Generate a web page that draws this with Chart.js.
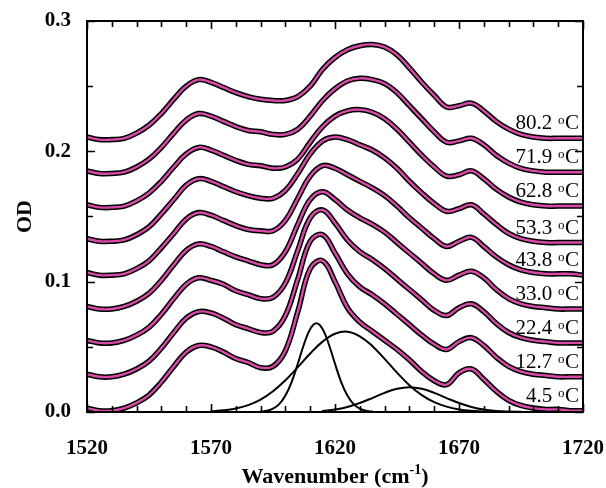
<!DOCTYPE html>
<html>
<head>
<meta charset="utf-8">
<script src="https://cdn.jsdelivr.net/npm/chart.js@4.4.0/dist/chart.umd.min.js"></script>
<style>
html, body { margin: 0; padding: 0; background: #fff; }
canvas { display: block; }
</style>
</head>
<body>
<canvas id="odChart" width="606" height="488"></canvas>
<script>
// wavenumber grid (cm-1) shared by all spectra
const wavenumbers = [1520, 1525, 1530, 1535, 1540, 1545, 1550, 1555, 1560, 1565, 1570, 1575, 1580, 1585,
    1590, 1595, 1600, 1605, 1610, 1615, 1620, 1625, 1630, 1635, 1640, 1645, 1650, 1655, 1660, 1665, 1670, 1675,
    1680, 1685, 1690, 1695, 1700, 1705, 1710, 1715, 1720];

const temps = ['80.2', '71.9', '62.8', '53.3', '43.8', '33.0', '22.4', '12.7', '4.5'];

// stacked spectra, top (hot) to bottom (cold)
const od80_2 = [0.211, 0.209, 0.209, 0.210, 0.214, 0.220, 0.229, 0.240, 0.250, 0.255, 0.253, 0.249, 0.245, 0.242,
    0.240, 0.239, 0.239, 0.242, 0.250, 0.263, 0.272, 0.278, 0.281, 0.282, 0.280, 0.274, 0.264, 0.253, 0.243, 0.234, 0.235, 0.237,
    0.231, 0.223, 0.217, 0.213, 0.211, 0.210, 0.210, 0.210, 0.210];
const od71_9 = [0.185, 0.183, 0.183, 0.184, 0.188, 0.194, 0.203, 0.214, 0.224, 0.229, 0.227, 0.223, 0.219, 0.216,
    0.215, 0.213, 0.213, 0.217, 0.227, 0.239, 0.248, 0.254, 0.256, 0.255, 0.252, 0.245, 0.235, 0.225, 0.215, 0.207, 0.208, 0.210,
    0.205, 0.197, 0.191, 0.187, 0.185, 0.184, 0.184, 0.184, 0.184];
const od62_8 = [0.159, 0.157, 0.157, 0.158, 0.162, 0.168, 0.177, 0.188, 0.198, 0.203, 0.201, 0.197, 0.193, 0.190,
    0.189, 0.187, 0.188, 0.194, 0.207, 0.219, 0.227, 0.231, 0.232, 0.230, 0.225, 0.217, 0.207, 0.197, 0.188, 0.181, 0.182, 0.185,
    0.179, 0.171, 0.165, 0.161, 0.159, 0.158, 0.158, 0.158, 0.158];
const od53_3 = [0.133, 0.131, 0.131, 0.132, 0.136, 0.142, 0.152, 0.163, 0.174, 0.179, 0.177, 0.173, 0.169, 0.166,
    0.164, 0.164, 0.170, 0.183, 0.198, 0.208, 0.211, 0.209, 0.205, 0.201, 0.195, 0.187, 0.177, 0.168, 0.160, 0.154, 0.156, 0.159,
    0.152, 0.144, 0.137, 0.133, 0.131, 0.130, 0.130, 0.130, 0.130];
const od43_8 = [0.107, 0.105, 0.105, 0.106, 0.110, 0.116, 0.126, 0.137, 0.148, 0.153, 0.151, 0.147, 0.143, 0.140,
    0.139, 0.139, 0.147, 0.164, 0.181, 0.189, 0.187, 0.182, 0.177, 0.172, 0.166, 0.158, 0.149, 0.141, 0.133, 0.127, 0.131, 0.134,
    0.127, 0.119, 0.113, 0.109, 0.107, 0.106, 0.106, 0.106, 0.105];
const od33_0 = [0.081, 0.079, 0.079, 0.081, 0.085, 0.091, 0.101, 0.113, 0.124, 0.129, 0.127, 0.123, 0.119, 0.116,
    0.113, 0.113, 0.123, 0.144, 0.163, 0.169, 0.163, 0.155, 0.149, 0.144, 0.138, 0.130, 0.122, 0.114, 0.106, 0.101, 0.105, 0.108,
    0.103, 0.094, 0.087, 0.083, 0.081, 0.080, 0.079, 0.079, 0.079];
const od22_4 = [0.055, 0.053, 0.053, 0.055, 0.059, 0.065, 0.075, 0.087, 0.098, 0.103, 0.101, 0.098, 0.093, 0.090,
    0.087, 0.088, 0.099, 0.124, 0.149, 0.155, 0.145, 0.132, 0.123, 0.117, 0.110, 0.102, 0.094, 0.086, 0.078, 0.074, 0.080, 0.083,
    0.077, 0.068, 0.061, 0.057, 0.055, 0.054, 0.053, 0.053, 0.053];
const od12_7 = [0.029, 0.027, 0.027, 0.029, 0.033, 0.039, 0.049, 0.061, 0.072, 0.077, 0.076, 0.072, 0.067, 0.064,
    0.061, 0.062, 0.074, 0.102, 0.131, 0.136, 0.122, 0.106, 0.096, 0.090, 0.083, 0.075, 0.067, 0.059, 0.052, 0.048, 0.054, 0.057,
    0.051, 0.042, 0.035, 0.031, 0.029, 0.028, 0.027, 0.027, 0.027];
const od4_5 = [0.003, 0.001, 0.001, 0.003, 0.007, 0.013, 0.023, 0.035, 0.046, 0.051, 0.050, 0.046, 0.041, 0.038,
    0.034, 0.035, 0.047, 0.077, 0.110, 0.116, 0.100, 0.080, 0.069, 0.062, 0.055, 0.048, 0.040, 0.031, 0.024, 0.021, 0.030, 0.033,
    0.025, 0.016, 0.009, 0.005, 0.003, 0.002, 0.002, 0.001, 0.001];

const spectra = [od80_2, od71_9, od62_8, od53_3, od43_8, od33_0, od22_4, od12_7, od4_5];

// fitted component bands of the 4.5 oC spectrum
const sharpX = [1590, 1592.5, 1595, 1597.5, 1600, 1602.5, 1605, 1607.5, 1610, 1612.5, 1615, 1617.5, 1620, 1622.5, 1625, 1627.5, 1630, 1632.5, 1635];
const sharpBand = [0.0003, 0.0009, 0.0025, 0.006, 0.0126, 0.023, 0.037, 0.052, 0.0636, 0.068, 0.0636, 0.052, 0.037, 0.023, 0.0126, 0.006, 0.0025, 0.0009, 0.0003];
const broadX = [1570, 1575, 1580, 1585, 1590, 1595, 1600, 1605, 1610, 1615, 1620, 1625, 1630, 1635, 1640, 1645, 1650, 1655, 1660, 1665, 1670, 1675, 1680];
const broadBand = [0.0006, 0.0013, 0.0027, 0.0053, 0.0095, 0.0159, 0.0243, 0.0344, 0.0449, 0.054, 0.060, 0.0616, 0.0581, 0.0507, 0.0408, 0.0302, 0.0206, 0.013, 0.0076, 0.0041, 0.002, 0.0009, 0.0004];
const highX = [1615, 1620, 1625, 1630, 1635, 1640, 1645, 1650, 1655, 1660, 1665, 1670, 1675, 1680, 1685, 1690, 1695];
const highBand = [0.0008, 0.0019, 0.0039, 0.0069, 0.0107, 0.0147, 0.0178, 0.019, 0.0178, 0.0147, 0.0107, 0.0069, 0.0039, 0.0019, 0.0008, 0.0003, 0.0001];

const xTicks = [1520, 1570, 1620, 1670, 1720];
const yTicks = [0, 0.1, 0.2, 0.3];

const PINK = '#d84aa8';
const SERIF = "'Liberation Serif', 'Times New Roman', serif";

function toPoints(xs, ys) {
    return xs.map((x, i) => ({ x: x, y: ys[i] }));
}

const datasets = [];
spectra.forEach((s, i) => {
    // measured spectrum (black) with the fit (pink) on top
    datasets.push({ label: temps[i] + ' data', data: toPoints(wavenumbers, s), borderColor: '#000', borderWidth: 5.5, order: 2 });
    datasets.push({ label: temps[i] + ' fit', data: toPoints(wavenumbers, s), borderColor: PINK, borderWidth: 2.4, order: 1 });
});
[[sharpX, sharpBand], [broadX, broadBand], [highX, highBand]].forEach(([xs, ys], i) => {
    datasets.push({ label: 'band ' + (i + 1), data: toPoints(xs, ys), borderColor: '#000', borderWidth: 2, order: 3 });
});

// frame, inward tick marks, temperature tags and x title
const decorations = {
    id: 'decorations',
    afterDatasetsDraw(chart) {
        const { ctx, chartArea: a, scales: { x, y } } = chart;
        ctx.save();
        ctx.strokeStyle = '#000';
        ctx.lineWidth = 2;
        ctx.strokeRect(a.left, a.top, a.right - a.left, a.bottom - a.top);

        ctx.lineWidth = 1.6;
        ctx.beginPath();
        for (let w = 1520; w <= 1720; w += 10) {
            const px = Math.round(x.getPixelForValue(w)) + 0.5;
            const len = (w - 1520) % 50 === 0 ? 8 : 6;
            ctx.moveTo(px, a.bottom); ctx.lineTo(px, a.bottom - len);
            ctx.moveTo(px, a.top); ctx.lineTo(px, a.top + len);
        }
        for (let k = 0; k <= 6; k++) {
            const py = Math.round(y.getPixelForValue(k * 0.05)) + 0.5;
            const len = k % 2 === 0 ? 8 : 6;
            ctx.moveTo(a.left, py); ctx.lineTo(a.left + len, py);
            ctx.moveTo(a.right, py); ctx.lineTo(a.right - len, py);
        }
        ctx.stroke();

        ctx.fillStyle = '#000';
        ctx.textBaseline = 'alphabetic';
        const rightX = a.right - 4;
        spectra.forEach((s, i) => {
            const base = y.getPixelForValue(s[s.length - 1]) - 9;
            ctx.font = '21px ' + SERIF;
            const cW = ctx.measureText('C').width;
            ctx.textAlign = 'right';
            ctx.fillText('C', rightX, base);
            ctx.font = '13px ' + SERIF;
            const oW = ctx.measureText('o').width;
            ctx.fillText('o', rightX - cW - 0.5, base - 5);
            ctx.font = '21px ' + SERIF;
            ctx.fillText(temps[i] + ' ', rightX - cW - oW - 1, base);
        });

        // Wavenumber (cm-1) with a raised -1
        const main1 = 'Wavenumber (cm', sup = '-1', main2 = ')';
        ctx.textAlign = 'left';
        ctx.font = 'bold 22px ' + SERIF;
        const w1 = ctx.measureText(main1).width, w3 = ctx.measureText(main2).width;
        ctx.font = 'bold 14px ' + SERIF;
        const w2 = ctx.measureText(sup).width;
        const cx = (a.left + a.right) / 2;
        let tx = cx - (w1 + w2 + w3) / 2;
        const tb = 483;
        ctx.font = 'bold 22px ' + SERIF;
        ctx.fillText(main1, tx, tb);
        ctx.font = 'bold 14px ' + SERIF;
        ctx.fillText(sup, tx + w1, tb - 9);
        ctx.font = 'bold 22px ' + SERIF;
        ctx.fillText(main2, tx + w1 + w2, tb);
        ctx.restore();
    }
};

new Chart(document.getElementById('odChart'), {
    type: 'line',
    data: { datasets: datasets },
    options: {
        responsive: false,
        animation: false,
        devicePixelRatio: 1,
        layout: { padding: { top: 21, right: 23, left: 0, bottom: 0 } },
        elements: {
            point: { radius: 0 },
            line: { tension: 0.4, fill: false, borderCapStyle: 'round', borderJoinStyle: 'round' }
        },
        plugins: { legend: { display: false }, tooltip: { enabled: false } },
        scales: {
            x: {
                type: 'linear',
                min: 1520,
                max: 1720,
                afterBuildTicks: (s) => { s.ticks = xTicks.map(v => ({ value: v })); },
                afterFit: (s) => { s.height = 76; s.paddingLeft = 0; s.paddingRight = 0; },
                grid: { display: false, drawTicks: false },
                border: { display: false },
                ticks: {
                    padding: 24,
                    color: '#000',
                    maxRotation: 0,
                    font: { family: SERIF, size: 21, weight: 'bold' },
                    callback: (v) => String(v)
                }
            },
            y: {
                type: 'linear',
                min: 0,
                max: 0.3,
                afterBuildTicks: (s) => { s.ticks = yTicks.map(v => ({ value: v })); },
                afterFit: (s) => { s.width = 87; s.paddingTop = 0; s.paddingBottom = 0; },
                grid: { display: false, drawTicks: false },
                border: { display: false },
                title: {
                    display: true,
                    text: 'OD',
                    color: '#000',
                    padding: { top: 12, bottom: 0 },
                    font: { family: SERIF, size: 22, weight: 'bold' }
                },
                ticks: {
                    padding: 16,
                    color: '#000',
                    font: { family: SERIF, size: 21, weight: 'bold' },
                    callback: (v) => Number(v).toFixed(1)
                }
            }
        }
    },
    plugins: [decorations]
});
</script>
</body>
</html>
